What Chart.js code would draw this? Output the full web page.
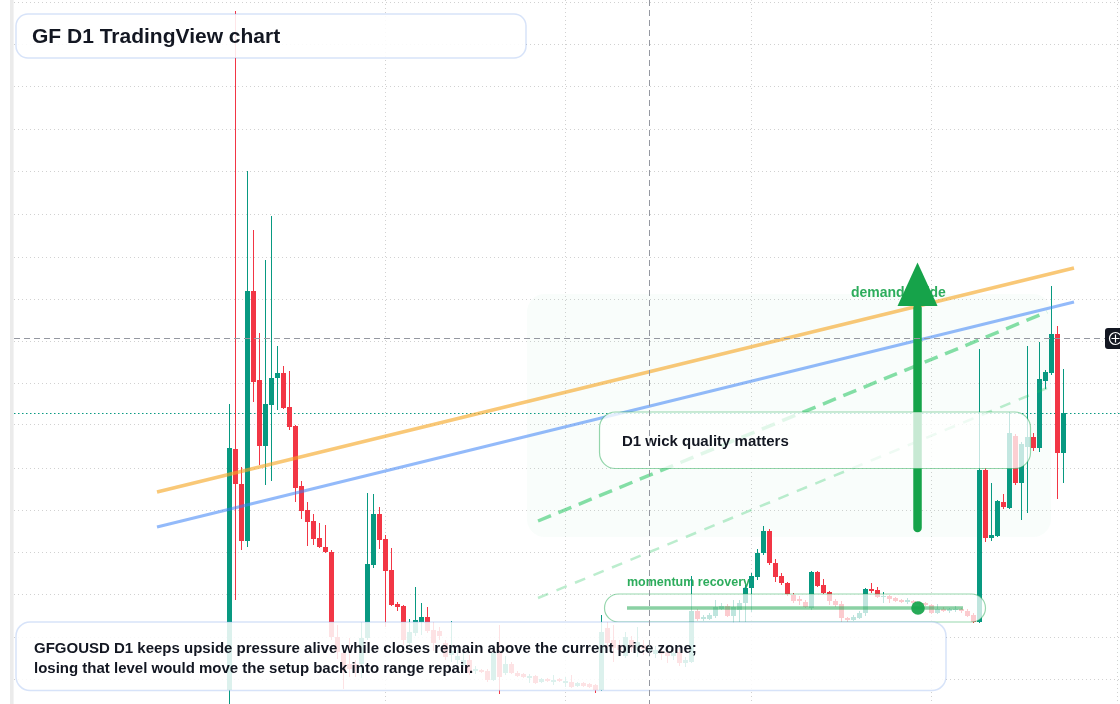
<!DOCTYPE html>
<html>
<head>
<meta charset="utf-8">
<title>GF D1 TradingView chart</title>
<script src="https://cdn.jsdelivr.net/npm/chart.js@4.4.1/dist/chart.umd.min.js"></script>
<style>
  html, body { margin: 0; padding: 0; background: #ffffff; }
  #wrap { position: relative; width: 1120px; height: 704px; overflow: hidden; }
</style>
</head>
<body>
<div id="wrap"><canvas id="myChart"></canvas></div>
<script>
// GFGOUSD daily candles, bar 0 = first candle on screen
const opens = [
  0.510,0.751,0.716,0.659,0.909,0.820,0.754,0.795,0.822,0.827,
  0.793,0.774,0.714,0.690,0.679,0.662,0.653,0.648,0.563,0.547,
  0.536,0.536,0.536,0.562,0.635,0.686,0.661,0.630,0.596,0.594,
  0.557,0.567,0.578,0.583,0.570,0.569,0.557,0.545,0.540,0.535,
  0.540,0.529,0.530,0.529,0.520,0.547,0.527,0.536,0.527,0.526,
  0.522,0.524,0.518,0.521,0.518,0.521,0.517,0.518,0.514,0.517,
  0.516,0.515,0.510,0.572,0.560,0.555,0.544,0.560,0.550,0.555,
  0.548,0.546,0.549,0.548,0.544,0.548,0.537,0.538,0.589,0.581,
  0.581,0.584,0.591,0.594,0.584,0.590,0.597,0.612,0.623,0.647,
  0.669,0.637,0.624,0.617,0.605,0.601,0.598,0.592,0.628,0.615,
  0.608,0.599,0.596,0.582,0.580,0.582,0.587,0.611,0.610,0.603,
  0.604,0.602,0.600,0.598,0.599,0.597,0.597,0.595,0.587,0.591,
  0.589,0.590,0.591,0.589,0.585,0.578,0.730,0.662,0.664,0.698,
  0.692,0.764,0.717,0.753,0.763,0.752,0.819,0.827,0.866,0.747
];
const highs = [
  0.796,1.189,0.733,1.029,0.970,0.867,0.940,0.984,0.854,0.834,
  0.829,0.775,0.719,0.698,0.686,0.677,0.675,0.650,0.575,0.555,
  0.562,0.540,0.578,0.707,0.706,0.693,0.665,0.652,0.598,0.595,
  0.581,0.613,0.597,0.593,0.578,0.573,0.560,0.579,0.550,0.548,
  0.545,0.534,0.531,0.531,0.548,0.575,0.544,0.538,0.529,0.527,
  0.526,0.525,0.522,0.522,0.525,0.522,0.523,0.525,0.518,0.518,
  0.517,0.516,0.585,0.578,0.575,0.560,0.568,0.564,0.573,0.560,
  0.555,0.554,0.552,0.552,0.550,0.552,0.543,0.624,0.591,0.585,
  0.587,0.600,0.597,0.596,0.600,0.600,0.615,0.627,0.651,0.674,
  0.671,0.641,0.627,0.618,0.607,0.604,0.600,0.629,0.629,0.621,
  0.609,0.601,0.599,0.583,0.585,0.589,0.612,0.617,0.613,0.608,
  0.605,0.603,0.601,0.602,0.600,0.599,0.598,0.596,0.596,0.593,
  0.592,0.594,0.592,0.591,0.587,0.851,0.732,0.717,0.700,0.706,
  0.788,0.766,0.758,0.854,0.767,0.858,0.830,0.914,0.874,0.831
];
const lows = [
  0.494,0.600,0.650,0.653,0.798,0.735,0.715,0.719,0.790,0.791,
  0.770,0.698,0.681,0.654,0.655,0.652,0.647,0.560,0.541,0.511,
  0.523,0.523,0.522,0.560,0.632,0.651,0.573,0.594,0.589,0.555,
  0.555,0.564,0.565,0.567,0.549,0.560,0.540,0.538,0.536,0.533,
  0.525,0.526,0.527,0.518,0.519,0.506,0.525,0.526,0.523,0.522,
  0.517,0.516,0.517,0.518,0.515,0.518,0.513,0.512,0.513,0.513,
  0.512,0.507,0.509,0.552,0.538,0.545,0.542,0.548,0.543,0.545,
  0.543,0.542,0.540,0.537,0.540,0.534,0.533,0.537,0.579,0.579,
  0.580,0.582,0.590,0.583,0.577,0.578,0.578,0.588,0.620,0.645,
  0.635,0.618,0.615,0.604,0.597,0.595,0.592,0.590,0.613,0.606,
  0.595,0.593,0.578,0.578,0.579,0.581,0.584,0.607,0.602,0.597,
  0.597,0.598,0.597,0.596,0.595,0.594,0.594,0.586,0.586,0.588,
  0.587,0.588,0.587,0.583,0.577,0.577,0.658,0.659,0.663,0.691,
  0.691,0.715,0.680,0.687,0.749,0.748,0.811,0.825,0.701,0.717
];
const closes = [
  0.752,0.716,0.659,0.909,0.818,0.754,0.796,0.822,0.827,0.792,
  0.773,0.712,0.689,0.678,0.661,0.653,0.648,0.563,0.548,0.529,
  0.531,0.532,0.562,0.636,0.686,0.660,0.629,0.595,0.593,0.560,
  0.568,0.580,0.583,0.569,0.557,0.564,0.543,0.549,0.544,0.540,
  0.527,0.531,0.528,0.520,0.547,0.523,0.536,0.527,0.524,0.523,
  0.524,0.517,0.521,0.519,0.520,0.519,0.519,0.513,0.517,0.514,
  0.513,0.510,0.568,0.557,0.552,0.550,0.563,0.552,0.558,0.551,
  0.551,0.550,0.546,0.544,0.547,0.537,0.540,0.589,0.581,0.583,
  0.585,0.593,0.594,0.584,0.593,0.597,0.612,0.624,0.647,0.669,
  0.637,0.623,0.617,0.606,0.599,0.599,0.593,0.628,0.614,0.607,
  0.599,0.595,0.582,0.580,0.583,0.587,0.611,0.609,0.603,0.604,
  0.601,0.599,0.598,0.600,0.597,0.596,0.595,0.587,0.591,0.589,
  0.591,0.591,0.589,0.584,0.578,0.730,0.662,0.665,0.699,0.693,
  0.767,0.717,0.756,0.763,0.752,0.821,0.828,0.866,0.747,0.787
];

// month separators (bar index) and horizontal price grid
const monthTicks = [26, 56, 87, 117, 148];
const priceGrid = [1.197,1.155,1.113,1.070,1.028,0.986,0.943,0.901,0.859,
                   0.817,0.775,0.732,0.690,0.648,0.606,0.563,0.521];

// drawn trend lines: [start, end] in bar index / price
const upperX = [-12.08, 140.75], upperY = [0.708, 0.932];
const lowerX = [-12.08, 140.75], lowerY = [0.673, 0.898];
const trendX = [51.42, 136.25], trendY = [0.679, 0.888];
const baseX = [51.42, 136.25], baseY = [0.602, 0.812];

// crosshair position (bar index, price)
const crossBar = 70, crossPrice = 0.862;

const xMin = -35.9167, xMax = 148.4167;
const yMin = 0.496, yMax = 1.2;

const upColor = '#089981';
const downColor = '#f23645';
const FONT = '"Liberation Sans", Arial, Helvetica, sans-serif';
const textDark = '#131722';
const labelGreen = 'rgba(22,163,74,0.9)';

// annotation anchors in chart units
const zone = { from: 49.58, to: 136.92, top: 0.906, bottom: 0.663 };
const arrow = { x: 114.67, from: 0.672, to: 0.9375, headBase: 0.894 };
const callout = { from: 61.67, to: 133.5, top: 0.788, bottom: 0.7315, textX: 65.42, textY: 0.758 };
const momentum = { from: 62.5, to: 126.0, top: 0.606, bottom: 0.578, lineFrom: 66.25, lineTo: 122.25,
                   lineY: 0.592, dot: 114.75, textY: 0.617 };
const demandLabel = { x: 103.58, y: 0.907 };

const bodies = opens.map((o, i) => ({ x: i, y: [o, closes[i]] }));
const wicks = lows.map((l, i) => ({ x: i, y: [l, highs[i]] }));
const candleColor = (c) => closes[c.dataIndex] >= opens[c.dataIndex] ? upColor : downColor;
const pts = (xs, ys) => xs.map((v, i) => ({ x: v, y: ys[i] }));

function roundBox(ctx, x0, y0, x1, y1, r) {
  ctx.beginPath();
  ctx.roundRect(x0, y0, x1 - x0, y1 - y0, r);
}

const overlay = {
  id: 'overlay',
  beforeDatasetsDraw(chart) {
    const { ctx, chartArea: a, scales: { x, y } } = chart;
    ctx.save();
    // pale demand zone
    roundBox(ctx, x.getPixelForValue(zone.from), y.getPixelForValue(zone.top),
             x.getPixelForValue(zone.to), y.getPixelForValue(zone.bottom), 18);
    ctx.fillStyle = 'rgba(34,197,94,0.026)';
    ctx.fill();

    // last close line
    const py = Math.round(y.getPixelForValue(closes[closes.length - 1])) + 0.5;
    ctx.setLineDash([1.5, 2.5]);
    ctx.strokeStyle = upColor;
    ctx.lineWidth = 1;
    ctx.beginPath();
    ctx.moveTo(a.left, py);
    ctx.lineTo(a.right, py);
    ctx.stroke();
    ctx.setLineDash([]);

    ctx.fillStyle = labelGreen;
    ctx.textBaseline = 'middle';
    ctx.font = 'bold 14px ' + FONT;
    ctx.fillText('demand guide', x.getPixelForValue(demandLabel.x), y.getPixelForValue(demandLabel.y));
    ctx.font = 'bold 12.5px ' + FONT;
    ctx.fillText('momentum recovery', x.getPixelForValue(momentum.lineFrom), y.getPixelForValue(momentum.textY));
    ctx.restore();
  },
  afterDatasetsDraw(chart) {
    const { ctx, scales: { x, y } } = chart;
    ctx.save();

    // up arrow
    const ax = x.getPixelForValue(arrow.x);
    const base = y.getPixelForValue(arrow.headBase);
    ctx.strokeStyle = '#16a34a';
    ctx.fillStyle = '#16a34a';
    ctx.lineWidth = 8.5;
    ctx.lineCap = 'round';
    ctx.beginPath();
    ctx.moveTo(ax, y.getPixelForValue(arrow.from));
    ctx.lineTo(ax, base + 2);
    ctx.stroke();
    ctx.beginPath();
    ctx.moveTo(ax, y.getPixelForValue(arrow.to));
    ctx.lineTo(ax + 20, base);
    ctx.lineTo(ax - 20, base);
    ctx.closePath();
    ctx.fill();

    // callout box
    roundBox(ctx, x.getPixelForValue(callout.from), y.getPixelForValue(callout.top),
             x.getPixelForValue(callout.to), y.getPixelForValue(callout.bottom), 16);
    ctx.fillStyle = 'rgba(255,255,255,0.76)';
    ctx.fill();
    ctx.strokeStyle = 'rgba(22,163,74,0.45)';
    ctx.lineWidth = 1.2;
    ctx.stroke();
    ctx.fillStyle = textDark;
    ctx.font = 'bold 15px ' + FONT;
    ctx.textBaseline = 'middle';
    ctx.fillText('D1 wick quality matters', x.getPixelForValue(callout.textX), y.getPixelForValue(callout.textY));

    // momentum gauge
    roundBox(ctx, x.getPixelForValue(momentum.from), y.getPixelForValue(momentum.top),
             x.getPixelForValue(momentum.to), y.getPixelForValue(momentum.bottom), 14);
    ctx.fillStyle = 'rgba(255,255,255,0.74)';
    ctx.fill();
    ctx.strokeStyle = 'rgba(22,163,74,0.45)';
    ctx.lineWidth = 1.2;
    ctx.stroke();
    const my = y.getPixelForValue(momentum.lineY);
    ctx.strokeStyle = 'rgba(22,163,74,0.5)';
    ctx.lineWidth = 3.5;
    ctx.lineCap = 'butt';
    ctx.beginPath();
    ctx.moveTo(x.getPixelForValue(momentum.lineFrom), my);
    ctx.lineTo(x.getPixelForValue(momentum.lineTo), my);
    ctx.stroke();
    ctx.fillStyle = 'rgba(22,163,74,0.92)';
    ctx.beginPath();
    ctx.arc(x.getPixelForValue(momentum.dot), my, 6.8, 0, Math.PI * 2);
    ctx.fill();

    // title and summary boxes
    ctx.strokeStyle = 'rgba(96,145,230,0.25)';
    ctx.lineWidth = 1.5;
    roundBox(ctx, 16, 14, 526, 58, 12);
    ctx.fillStyle = 'rgba(255,255,255,0.88)';
    ctx.fill();
    ctx.stroke();
    roundBox(ctx, 16, 622, 946, 690.5, 14);
    ctx.fillStyle = 'rgba(255,255,255,0.86)';
    ctx.fill();
    ctx.stroke();

    ctx.fillStyle = textDark;
    ctx.textBaseline = 'alphabetic';
    ctx.font = 'bold 21px ' + FONT;
    ctx.fillText('GF D1 TradingView chart', 32, 43);
    ctx.font = 'bold 15px ' + FONT;
    ctx.fillText('GFGOUSD D1 keeps upside pressure alive while closes remain above the current price zone;', 34, 653);
    ctx.fillText('losing that level would move the setup back into range repair.', 34, 673);
    ctx.restore();
  },
  afterDraw(chart) {
    const { ctx, chartArea: a, scales: { x, y } } = chart;
    ctx.save();
    // crosshair
    const cx = Math.round(x.getPixelForValue(crossBar)) + 0.5;
    const cy = Math.round(y.getPixelForValue(crossPrice)) + 0.5;
    ctx.strokeStyle = '#9598a1';
    ctx.lineWidth = 1;
    ctx.setLineDash([6, 4]);
    ctx.beginPath();
    ctx.moveTo(cx, a.top);
    ctx.lineTo(cx, a.bottom);
    ctx.moveTo(a.left, cy);
    ctx.lineTo(a.right, cy);
    ctx.stroke();
    ctx.setLineDash([]);

    // add-alert button on the price line
    roundBox(ctx, a.right - 15, cy - 10.5, a.right + 6, cy + 10.5, 3);
    ctx.fillStyle = '#131722';
    ctx.fill();
    ctx.strokeStyle = '#ffffff';
    ctx.lineWidth = 1.2;
    ctx.beginPath();
    ctx.arc(a.right - 4.5, cy, 6, 0, Math.PI * 2);
    ctx.moveTo(a.right - 8.5, cy);
    ctx.lineTo(a.right - 0.5, cy);
    ctx.moveTo(a.right - 4.5, cy - 4);
    ctx.lineTo(a.right - 4.5, cy + 4);
    ctx.stroke();

    // left pane divider
    ctx.fillStyle = '#ebebeb';
    ctx.fillRect(a.left - 4, 0, 3.6, chart.height);
    ctx.restore();
  }
};

const ctx = document.getElementById('myChart').getContext('2d');
const myChart = new Chart(ctx, {
  type: 'bar',
  data: {
    datasets: [
      { type: 'line', label: 'upper channel', data: pts(upperX, upperY), borderColor: 'rgba(245,166,35,0.62)',
        borderWidth: 3.5, pointRadius: 0, tension: 0, order: 0 },
      { type: 'line', label: 'lower channel', data: pts(lowerX, lowerY), borderColor: 'rgba(59,130,246,0.55)',
        borderWidth: 3, pointRadius: 0, tension: 0, order: 0 },
      { type: 'line', label: 'trend', data: pts(trendX, trendY), borderColor: 'rgba(34,197,94,0.55)',
        borderWidth: 3.5, borderDash: [14, 8], pointRadius: 0, tension: 0, order: 0 },
      { type: 'line', label: 'base', data: pts(baseX, baseY), borderColor: 'rgba(34,197,94,0.3)',
        borderWidth: 2.5, borderDash: [11, 9], pointRadius: 0, tension: 0, order: 0 },
      { label: 'body', data: bodies, backgroundColor: candleColor, grouped: false, borderWidth: 0,
        inflateAmount: 0, categoryPercentage: 1, barPercentage: 5 / 6, order: 1 },
      { label: 'wick', data: wicks, backgroundColor: candleColor, grouped: false, borderWidth: 0,
        inflateAmount: 0, categoryPercentage: 1, barPercentage: 1, maxBarThickness: 1, order: 2 }
    ]
  },
  options: {
    responsive: true,
    maintainAspectRatio: false,
    animation: false,
    events: [],
    layout: { padding: { left: 14, right: 0, top: 0, bottom: 0 } },
    plugins: {
      legend: { display: false },
      tooltip: { enabled: false },
      title: { display: false }
    },
    scales: {
      x: {
        type: 'linear', min: xMin, max: xMax, offset: false,
        ticks: { display: false },
        grid: { color: 'rgba(0,0,0,0.18)', drawTicks: false, offset: false },
        border: { display: false, dash: [1, 3] },
        afterBuildTicks: (s) => { s.ticks = monthTicks.map(v => ({ value: v })); }
      },
      y: {
        type: 'linear', min: yMin, max: yMax,
        ticks: { display: false },
        grid: { color: 'rgba(0,0,0,0.18)', drawTicks: false },
        border: { display: false, dash: [1, 3] },
        afterBuildTicks: (s) => { s.ticks = priceGrid.map(v => ({ value: v })); }
      }
    }
  },
  plugins: [overlay]
});
</script>
</body>
</html>
